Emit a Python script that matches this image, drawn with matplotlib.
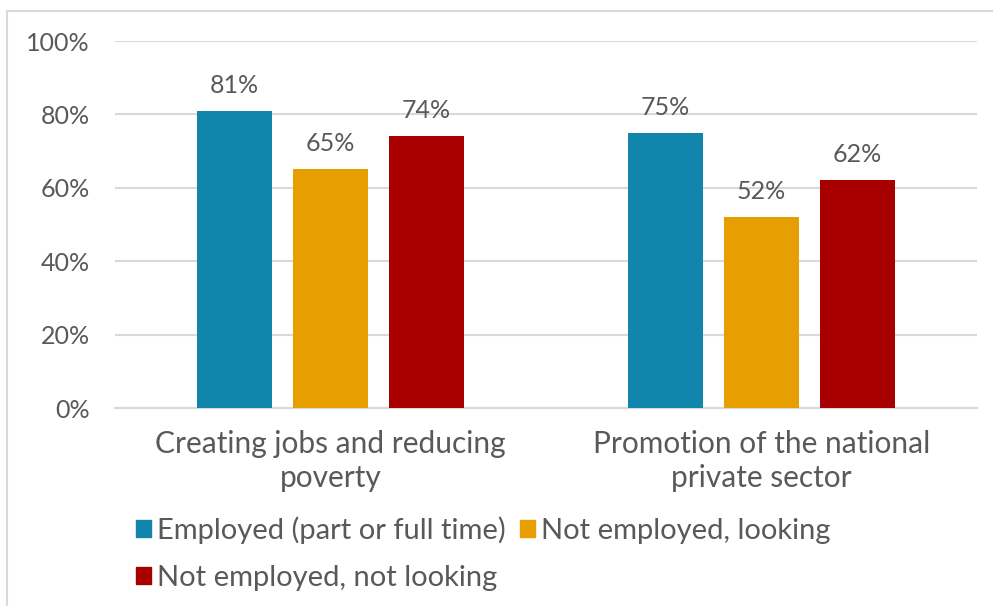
import numpy as np
import matplotlib
matplotlib.use("Agg")
from matplotlib import pyplot as plt
from matplotlib.patches import Rectangle, Patch

plt.rcParams['font.family'] = ['Lato', 'DejaVu Sans']

categories = ["Creating jobs and reducing\npoverty", "Promotion of the national\nprivate sector"]
series_names = ["Employed (part or full time)", "Not employed, looking", "Not employed, not looking"]
employed = [81, 75]
looking = [65, 52]
not_looking = [74, 62]
colors = ["#1185AC", "#E79E00", "#A80000"]
text_gray = "#595959"

W, H = 993, 606
fig = plt.figure(figsize=(W / 100, H / 100), dpi=100)

# chart frame
fig.patches.append(Rectangle((7 / W, -0.1), 1.2, 1 - 11 / H + 0.1, transform=fig.transFigure,
                             fill=False, edgecolor="#D9D9D9", linewidth=1.5))

ax = fig.add_axes([115 / W, 1 - 408 / H, (977 - 115) / W, (408 - 41) / H])

x = np.arange(len(categories))
width = 0.174
step = 0.2227
all_series = [employed, looking, not_looking]
for i, vals in enumerate(all_series):
    pos = x + (i - 1) * step
    ax.bar(pos, vals, width=width, color=colors[i], zorder=3)
    for xx, v in zip(pos, vals):
        ax.annotate(f"{v}%", (xx, v), xytext=(0, 18.5), textcoords="offset points",
                    ha="center", va="center", fontsize=18, color=text_gray)

ax.set_xlim(-0.5, 1.5)
ax.set_ylim(0, 100)
ax.set_yticks(range(0, 101, 20))
ax.set_yticklabels([f"{v}%" for v in range(0, 101, 20)])
ax.set_xticks(x)
ax.set_xticklabels(categories, linespacing=1.24)
ax.tick_params(axis="y", length=0, pad=18, labelsize=18, labelcolor=text_gray)
ax.tick_params(axis="x", length=0, pad=16, labelsize=21.5, labelcolor=text_gray)
ax.grid(axis="y", color="#D9D9D9", linewidth=1.5, zorder=0)
for s in ["top", "right", "left"]:
    ax.spines[s].set_visible(False)
ax.spines["bottom"].set_color("#D9D9D9")
ax.spines["bottom"].set_linewidth(1.5)

handles = [Patch(color=colors[0]), Patch(color=colors[2]), Patch(color=colors[1])]
labels = [series_names[0], series_names[2], series_names[1]]
fig.legend(handles, labels, ncol=2, loc="upper left", bbox_to_anchor=(136 / W, 1 - 516 / H),
           frameon=False, fontsize=21, labelcolor=text_gray, handlelength=0.52, handleheight=0.52,
           handletextpad=0.2, columnspacing=0.48, labelspacing=0.72, borderpad=0, borderaxespad=0)

fig.savefig("out.png", dpi=100)
